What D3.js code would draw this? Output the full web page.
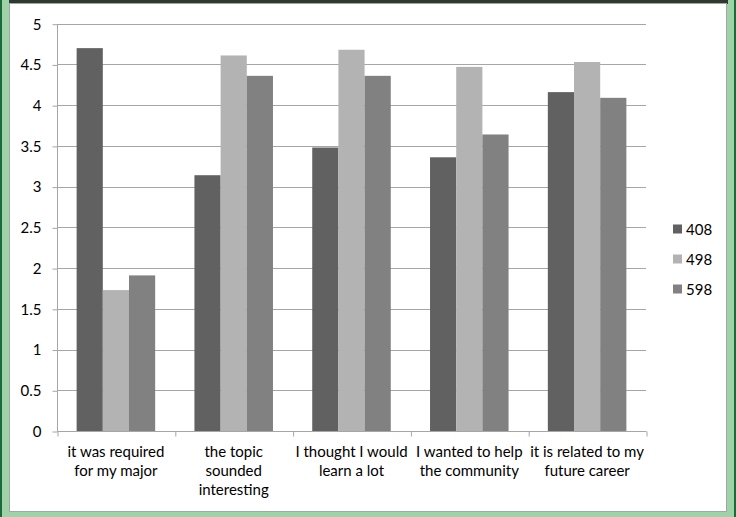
<!DOCTYPE html>
<html><head><meta charset="utf-8">
<script src="https://cdn.jsdelivr.net/npm/d3@7"></script>
<style>html,body{margin:0;padding:0;background:#fff;}svg{display:block;}</style>
</head><body>
<svg id="c" width="736" height="517"></svg>
<script>
const categories = [
  ["it was required", "for my major"],
  ["the topic", "sounded", "interesting"],
  ["I thought I would", "learn a lot"],
  ["I wanted to help", "the community"],
  ["it is related to my", "future career"]
];
const seriesNames = ["408", "498", "598"];
const values408 = [4.70, 3.14, 3.48, 3.36, 4.16];
const values498 = [1.73, 4.61, 4.68, 4.47, 4.53];
const values598 = [1.91, 4.36, 4.36, 3.64, 4.09];
const yTicks = [0, 0.5, 1, 1.5, 2, 2.5, 3, 3.5, 4, 4.5, 5];
const colors = ["#616161", "#b3b3b3", "#818181"];

const series = [values408, values498, values598];
const svg = d3.select("#c");
const font = "Lato, 'Open Sans', sans-serif";
const fs = 15;

// frame
svg.append("rect").attr("x",0).attr("y",0).attr("width",736).attr("height",517).attr("fill","#9dd3a6");
svg.append("rect").attr("x",0).attr("y",0).attr("width",2).attr("height",517).attr("fill","#1f6a3a");
svg.append("rect").attr("x",734).attr("y",0).attr("width",2).attr("height",517).attr("fill","#1f6a3a");
svg.append("rect").attr("x",9).attr("y",0).attr("width",719).attr("height",4).attr("fill","#2c3a30");
svg.append("rect").attr("x",9.5).attr("y",3.5).attr("width",717).attr("height",508).attr("fill","#fff").attr("stroke","#a5a5a5").attr("stroke-width",1);

const x0 = 57, x1 = 646, yTop = 23.7, yBot = 431;
const x = d3.scaleBand().domain(d3.range(categories.length)).range([x0, x1]).paddingInner(0).paddingOuter(0);
const y = d3.scaleLinear().domain([0, 5]).range([yBot, yTop]);
const bw = x.bandwidth() / 4.5;
const xs = d3.scaleBand().domain(d3.range(3)).range([0.75*bw, 3.75*bw]);

// gridlines
svg.append("g").selectAll("line").data(yTicks.filter(d=>d>0)).join("line")
  .attr("x1", x0).attr("x2", x1)
  .attr("y1", d=>Math.round(y(d))+0.5).attr("y2", d=>Math.round(y(d))+0.5)
  .attr("stroke","#a6a6a6").attr("stroke-width",1);

// bars
const g = svg.append("g");
series.forEach((vals, si) => {
  g.selectAll(null).data(vals).join("rect")
    .attr("x", (d,i)=> x(i) + xs(si))
    .attr("width", xs.bandwidth())
    .attr("y", d=> y(d))
    .attr("height", d=> y(0) - y(d))
    .attr("fill", colors[si]);
});

// y axis
const yAxis = d3.axisLeft(y).tickValues(yTicks).tickSize(5).tickPadding(11).tickFormat(d3.format("~g"));
const ya = svg.append("g").attr("transform", `translate(${x0+0.5},0.5)`).call(yAxis);
ya.select(".domain").attr("stroke","#a6a6a6").attr("d", `M0,${yTop}V${yBot}`);
ya.selectAll(".tick line").attr("stroke","#a6a6a6");
ya.selectAll(".tick text").attr("font-family",font).attr("font-size",fs).attr("fill","#000");

// x axis
const xAxis = d3.axisBottom(d3.scaleLinear().domain([0, categories.length]).range([x0, x1]))
  .tickValues(d3.range(categories.length+1)).tickSize(5).tickFormat("");
const xa = svg.append("g").attr("transform", `translate(0.5,${Math.round(yBot)+0.5})`).call(xAxis);
xa.select(".domain").attr("stroke","#a6a6a6").attr("d", `M${x0},0H${x1}`);
xa.selectAll(".tick line").attr("stroke","#a6a6a6");

// x labels
categories.forEach((lines, i) => {
  const t = svg.append("text").attr("font-family",font).attr("font-size",fs).attr("fill","#000")
    .attr("text-anchor","middle");
  lines.forEach((ln, k) => {
    t.append("tspan").attr("x", x(i) + x.bandwidth()/2).attr("y", 456.5 + k*19).text(ln);
  });
});

// legend
seriesNames.forEach((n, i) => {
  const cy = 229 + i*30;
  svg.append("rect").attr("x",673).attr("y",cy-4.5).attr("width",9).attr("height",9).attr("fill",colors[i]);
  svg.append("text").attr("x",686).attr("y",cy+5.5).attr("font-family",font).attr("font-size",fs).attr("fill","#000").text(n);
});
</script>
</body></html>
